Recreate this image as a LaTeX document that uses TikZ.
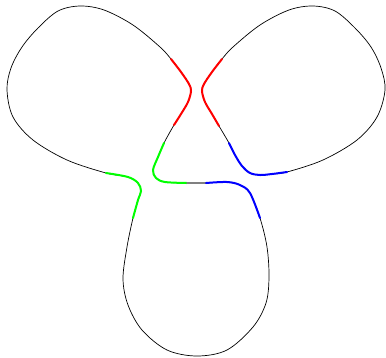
\documentclass[tikz,border=0pt]{standalone}
\definecolor{pr}{RGB}{255,0,0}
\definecolor{pg}{RGB}{0,255,0}
\definecolor{pb}{RGB}{0,0,255}
\tikzset{
  base/.style={draw=black, line width=0.7pt},
  seg/.style={line width=2pt, line cap=round},
}
\begin{document}
\begin{tikzpicture}[x=1pt,y=-1pt]
\useasboundingbox (0,0) rectangle (386,357);
% curve A: upper-left loop and lower loop
\draw[base] plot[smooth cycle, tension=0.55] coordinates {
 (171,59) (181,72) (189,84) (191,91) (188,102) (181,114) (174,125)
 (164,143) (158,157) (153,170) (156,178) (165,182) (187,183)
 (206,183) (227,182) (240,185) (250,193) (260,218)
 (267,247) (269,277) (266,303) (253,327) (227,350) (197,356) (167,350) (142,330) (128,305) (123,279) (127,247)
 (133,218) (138,200) (141,191) (138,183) (128,177) (106,173)
 (67,160) (33,140) (13,117) (7,90) (11,68) (22,47) (38,28) (58,11) (80,6) (104,10) (133,25) (160,47)};
% curve B: upper-right loop
\draw[base] plot[smooth cycle, tension=0.55] coordinates {
 (222,59) (212,72) (204,84) (202,91) (205,102) (212,114) (219,126)
 (229,143) (235,155) (242,166) (250,173) (260,175) (272,174) (287,172)
 (323,160) (357,140) (377,117) (385,90) (381,68) (371,47) (355,28) (335,11) (313,6) (289,10) (260,25) (233,47)};
% coloured parts
\draw[seg, draw=pr] plot[smooth, tension=0.55] coordinates {(171,59) (181,72) (189,84) (191,91) (188,102) (181,114) (174,125)};
\draw[seg, draw=pg] plot[smooth, tension=0.55] coordinates {(164,143) (158,157) (153,170) (156,178) (165,182) (187,183)};
\draw[seg, draw=gray, line width=1.4pt] (187,183) -- (206,183);
\draw[seg, draw=pb] plot[smooth, tension=0.55] coordinates {(206,183) (227,182) (240,185) (250,193) (260,218)};
\draw[seg, draw=pg] plot[smooth, tension=0.55] coordinates {(133,218) (138,200) (141,191) (138,183) (128,177) (106,173)};
\draw[seg, draw=pr] plot[smooth, tension=0.55] coordinates {(222,59) (212,72) (204,84) (202,91) (205,102) (212,114) (219,126)};
\draw[seg, draw=pb] plot[smooth, tension=0.55] coordinates {(229,143) (235,155) (242,166) (250,173) (260,175) (272,174) (287,172)};
\end{tikzpicture}
\end{document}
